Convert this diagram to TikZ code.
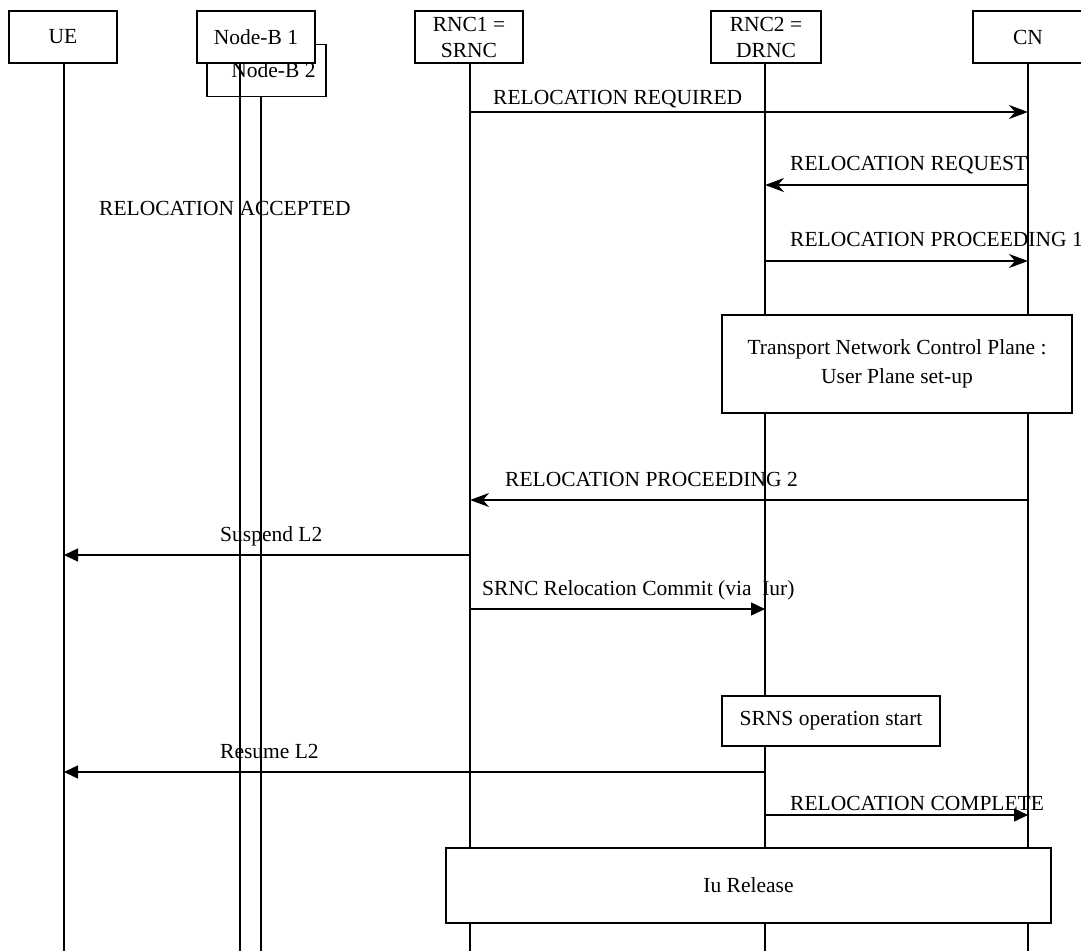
\documentclass[tikz,border=0pt]{standalone}
\usepackage{fontspec}
\setmainfont{Liberation Serif}
\usetikzlibrary{arrows.meta}
\begin{document}
\begin{tikzpicture}[x=1pt,y=-1pt,
  every node/.style={font=\fontsize{21.5}{26}\selectfont},
  box/.style={draw, line width=1.4pt, fill=white, inner sep=0pt, align=center},
  life/.style={line width=1.4pt},
  msgS/.style={line width=1.4pt, -{Stealth[length=19pt,width=14pt,inset=6pt]}},
  msgT/.style={line width=1.4pt, -{Triangle[length=14pt,width=13pt]}},
  lbl/.style={anchor=base west, inner sep=0pt}]
\useasboundingbox (0,0) rectangle (1081,951);

% heads
\node[box, minimum width=108pt, minimum height=52pt] (ue) at (63,37) {UE};
\node[box, minimum width=119pt, minimum height=52pt] (nb2) at (266.5,70.5) {\hspace*{14pt}Node-B 2};
\node[box, minimum width=108pt, minimum height=52pt] (rnc1) at (469,37) {RNC1 =\\SRNC};
\node[box, minimum width=110pt, minimum height=52pt] (rnc2) at (766,37) {RNC2 =\\DRNC};
\node[box, minimum width=110pt, minimum height=52pt] (cn) at (1028,37) {CN};

% bottom ends of lifelines
\coordinate (ueB) at (64,951);
\coordinate (nb1B) at (240,951);
\coordinate (nb2B) at (261,951);
\coordinate (rnc1B) at (470,951);
\coordinate (rnc2B) at (765,951);
\coordinate (cnB) at (1028,951);
\coordinate (nb1T) at (240,63);
\coordinate (nb2T) at (261,97);

\draw[life] (ue.south -| ueB) -- (ueB);
\draw[life] (nb1T) -- (nb1B);
\draw[life] (nb2T) -- (nb2B);
\draw[life] (rnc1.south -| rnc1B) -- (rnc1B);
\draw[life] (rnc2.south -| rnc2B) -- (rnc2B);
\draw[life] (cn.south -| cnB) -- (cnB);

\node[box, minimum width=118pt, minimum height=52pt] (nb1) at (256,37) {Node-B 1};

% messages
\draw[msgS] (rnc1B |- 0,112) -- (cnB |- 0,112);
\node[lbl] (l1) at (493,104) {RELOCATION REQUIRED};

\draw[msgS] (cnB |- 0,185) -- (rnc2B |- 0,185);
\node[lbl] (l2) at (790,170) {RELOCATION REQUEST};

\node[lbl] (l3) at (99,215) {RELOCATION ACCEPTED};

\draw[msgS] (rnc2B |- 0,261) -- (cnB |- 0,261);
\node[lbl] (l4) at (790,246) {RELOCATION PROCEEDING 1};

\node[box, minimum width=350pt, minimum height=98pt] (tncp) at (897,364)
  {Transport Network Control Plane :\\[3pt]User Plane set-up};

\draw[msgS] (cnB |- 0,500) -- (rnc1B |- 0,500);
\node[lbl] (l6) at (505,486) {RELOCATION PROCEEDING 2};

\draw[msgT] (rnc1B |- 0,555) -- (ueB |- 0,555);
\node[lbl] (l7) at (220,541) {Suspend L2};

\draw[msgT] (rnc1B |- 0,609) -- (rnc2B |- 0,609);
\node[lbl] (l8) at (482,595) {SRNC Relocation Commit (via\ \ Iur)};

\node[box, minimum width=218pt, minimum height=50pt] (srns) at (831,721) {SRNS operation start};

\draw[msgT] (rnc2B |- 0,772) -- (ueB |- 0,772);
\node[lbl] (l10) at (220,758) {Resume L2};

\draw[msgT] (rnc2B |- 0,815) -- (cnB |- 0,815);
\node[lbl] (l11) at (790,810) {RELOCATION COMPLETE};

\node[box, minimum width=605pt, minimum height=75pt] (iu) at (748.5,885.5) {Iu Release};
\end{tikzpicture}
\end{document}
